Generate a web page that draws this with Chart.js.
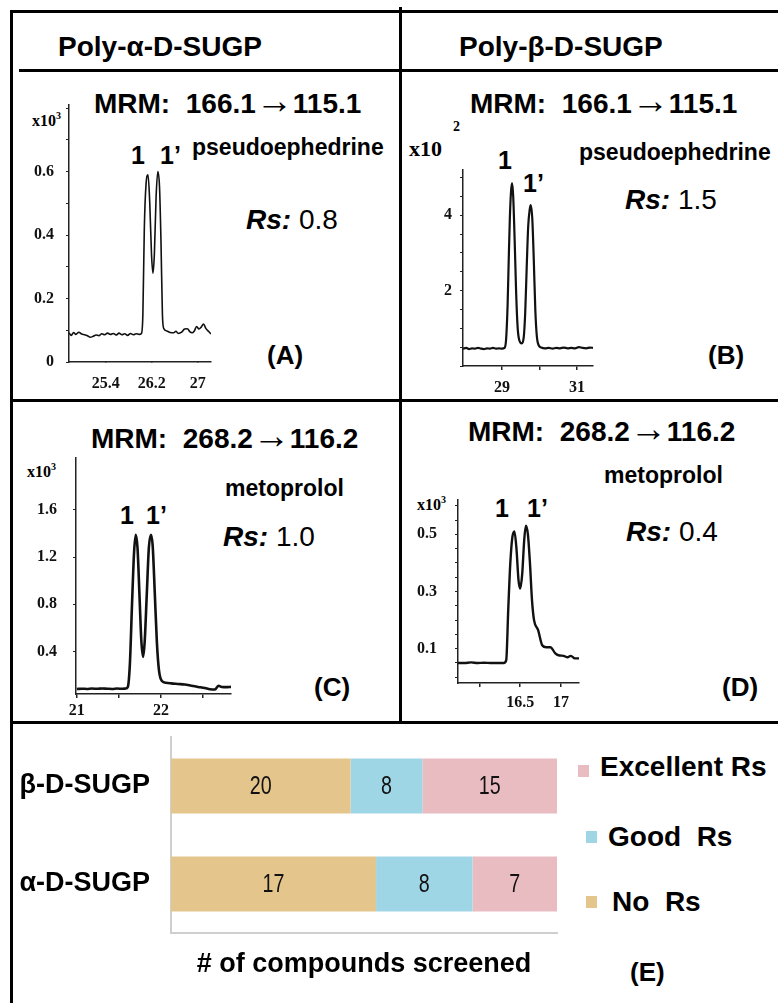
<!DOCTYPE html>
<html>
<head>
<meta charset="utf-8">
<script src="https://cdn.jsdelivr.net/npm/chart.js@4/dist/chart.umd.min.js"></script>
<style>
  body { margin: 0; background: #fff; }
  #fig { position: relative; width: 778px; height: 1003px; overflow: hidden;
         font-family: "Liberation Sans", Arial, sans-serif; color: #000; }
  .ln { position: absolute; background: #000; }
  .t { position: absolute; white-space: nowrap; line-height: 1; transform: translateY(-50%); }
  .b { font-weight: bold; }
  .arr { font-family: "Liberation Serif", serif; font-weight: normal; font-size: 37px; }
  .rs { font-style: italic; font-weight: bold; }
  .mult { font-family: "Liberation Serif", serif; font-weight: bold; font-size: 16px; }
  .mult sup { font-size: 10px; vertical-align: 7px; }
  .sq { position: absolute; width: 11px; height: 12px; }
  canvas { position: absolute; }
</style>
</head>
<body>
<div id="fig">
  <!-- frame -->
  <div class="ln" style="left:10px;top:10px;width:768px;height:3px"></div>
  <div class="ln" style="left:10px;top:10px;width:3px;height:993px"></div>
  <div class="ln" style="left:19px;top:69px;width:759px;height:3px"></div>
  <div class="ln" style="left:399px;top:7px;width:3px;height:716px"></div>
  <div class="ln" style="left:10px;top:399px;width:768px;height:3px"></div>
  <div class="ln" style="left:10px;top:721px;width:768px;height:3px"></div>

  <!-- headers -->
  <div class="t b" style="left:58px;top:47px;font-size:28px">Poly-α-D-SUGP</div>
  <div class="t b" style="left:459px;top:47px;font-size:28px">Poly-β-D-SUGP</div>

  <!-- A -->
  <div class="t b" style="left:94px;top:100px;font-size:28px">MRM:&nbsp; 166.1<span class="arr">→</span>115.1</div>
  <div class="t mult" style="left:32px;top:120px">x10<sup>3</sup></div>
  <div class="t b" style="left:131px;top:155px;font-size:25px">1</div>
  <div class="t b" style="left:160px;top:155px;font-size:25px">1’</div>
  <div class="t b" style="left:192px;top:147px;font-size:23px">pseudoephedrine</div>
  <div class="t" style="left:246px;top:220px;font-size:28px"><span class="rs">Rs:</span> 0.8</div>
  <div class="t b" style="left:267px;top:355px;font-size:26px">(A)</div>
  <canvas id="chA"></canvas>

  <!-- B -->
  <div class="t b" style="left:470px;top:100px;font-size:28px">MRM:&nbsp; 166.1<span class="arr">→</span>115.1</div>
  <div class="t mult" style="left:409px;top:149px;font-size:22px">x10</div>
  <div class="t mult" style="left:453px;top:127px;font-size:14px">2</div>
  <div class="t b" style="left:498px;top:160px;font-size:25px">1</div>
  <div class="t b" style="left:523px;top:183px;font-size:25px">1’</div>
  <div class="t b" style="left:579px;top:152px;font-size:23px">pseudoephedrine</div>
  <div class="t" style="left:625px;top:200px;font-size:28px"><span class="rs">Rs:</span> 1.5</div>
  <div class="t b" style="left:708px;top:355px;font-size:26px">(B)</div>
  <canvas id="chB"></canvas>

  <!-- C -->
  <div class="t b" style="left:91px;top:435px;font-size:28px">MRM:&nbsp; 268.2<span class="arr">→</span>116.2</div>
  <div class="t mult" style="left:27px;top:471px">x10<sup>3</sup></div>
  <div class="t b" style="left:225px;top:488px;font-size:23px">metoprolol</div>
  <div class="t b" style="left:120px;top:515px;font-size:25px">1</div>
  <div class="t b" style="left:146px;top:515px;font-size:25px">1’</div>
  <div class="t" style="left:223px;top:537px;font-size:28px"><span class="rs">Rs:</span> 1.0</div>
  <div class="t b" style="left:314px;top:687px;font-size:26px">(C)</div>
  <canvas id="chC"></canvas>

  <!-- D -->
  <div class="t b" style="left:468px;top:428px;font-size:28px">MRM:&nbsp; 268.2<span class="arr">→</span>116.2</div>
  <div class="t b" style="left:604px;top:475px;font-size:23px">metoprolol</div>
  <div class="t mult" style="left:417px;top:504px">x10<sup>3</sup></div>
  <div class="t b" style="left:495px;top:508px;font-size:25px">1</div>
  <div class="t b" style="left:527px;top:508px;font-size:25px">1’</div>
  <div class="t" style="left:626px;top:532px;font-size:28px"><span class="rs">Rs:</span> 0.4</div>
  <div class="t b" style="left:722px;top:687px;font-size:26px">(D)</div>
  <canvas id="chD"></canvas>

  <!-- E -->
  <canvas id="chE"></canvas>
  <div class="sq" style="left:578px;top:765px;background:#e9bcc1"></div>
  <div class="t b" style="left:600px;top:767px;font-size:28px">Excellent Rs</div>
  <div class="sq" style="left:586px;top:831px;background:#9fd6e6"></div>
  <div class="t b" style="left:608px;top:837px;font-size:28px">Good&nbsp; Rs</div>
  <div class="sq" style="left:586px;top:896px;background:#e4c68c"></div>
  <div class="t b" style="left:612px;top:902px;font-size:28px">No&nbsp; Rs</div>
  <div class="t b" style="left:630px;top:972px;font-size:26px">(E)</div>
</div>

<script>
// chromatogram A: poly-alpha, pseudoephedrine (x10^3 counts vs min)
const timeA = [24.76, 24.80, 24.84, 24.88, 24.93, 24.98, 25.03, 25.08, 25.13, 25.18, 25.23, 25.28, 25.33,
  25.38, 25.43, 25.48, 25.53, 25.58, 25.63, 25.68, 25.73, 25.78, 25.83, 25.88, 25.93, 25.98, 26.02,
  26.045, 26.07, 26.10, 26.135, 26.165, 26.195, 26.22, 26.245, 26.275, 26.305, 26.335, 26.36, 26.385,
  26.41, 26.46, 26.52, 26.58, 26.62, 26.66, 26.72, 26.77, 26.82, 26.86, 26.90, 26.94, 26.98, 27.02,
  27.06, 27.10, 27.14, 27.19, 27.23];
const signalA = [0.092, 0.084, 0.093, 0.087, 0.094, 0.088, 0.086, 0.083, 0.078, 0.081, 0.085, 0.083, 0.089,
  0.086, 0.091, 0.087, 0.090, 0.085, 0.091, 0.086, 0.089, 0.084, 0.090, 0.086, 0.089, 0.087, 0.090,
  0.15, 0.42, 0.56, 0.59, 0.50, 0.34, 0.28, 0.34, 0.52, 0.60, 0.55, 0.38, 0.15,
  0.105, 0.098, 0.093, 0.092, 0.097, 0.090, 0.094, 0.104, 0.105, 0.096, 0.092, 0.098, 0.112, 0.104,
  0.110, 0.120, 0.106, 0.096, 0.088];
const xTicksA = [25.4, 26.2, 27];
const yTicksA = [0, 0.2, 0.4, 0.6];

// chromatogram B: poly-beta, pseudoephedrine (x10^2)
const timeB = [27.96, 28.05, 28.12, 28.2, 28.28, 28.36, 28.44, 28.52, 28.6, 28.68, 28.76, 28.84, 28.92,
  29.0, 29.07, 29.11, 29.15, 29.18, 29.21, 29.24, 29.27, 29.30, 29.34, 29.38, 29.42, 29.47, 29.53,
  29.58, 29.62, 29.66, 29.70, 29.74, 29.77, 29.81, 29.85, 29.89, 29.93, 29.98, 30.05, 30.15, 30.25,
  30.35, 30.45, 30.55, 30.65, 30.75, 30.85, 30.95, 31.05, 31.15, 31.25, 31.35, 31.43];
const signalB = [0.46, 0.48, 0.45, 0.47, 0.46, 0.48, 0.46, 0.45, 0.47, 0.46, 0.48, 0.46, 0.47,
  0.46, 0.48, 0.7, 1.6, 2.8, 3.9, 4.6, 4.85, 4.5, 3.3, 1.9, 1.0, 0.66, 0.6,
  0.75, 1.4, 2.6, 3.7, 4.15, 4.27, 3.9, 2.8, 1.5, 0.8, 0.55, 0.49, 0.47, 0.48,
  0.46, 0.48, 0.47, 0.49, 0.47, 0.48, 0.47, 0.50, 0.48, 0.47, 0.49, 0.48];
const xTicksB = [29, 30, 31];
const xLabelsB = [29, 31];
const yTicksB = [2, 4];

// chromatogram C: poly-alpha, metoprolol (x10^3)
const timeC = [21.0, 21.06, 21.12, 21.18, 21.24, 21.30, 21.36, 21.42, 21.48, 21.54, 21.58, 21.605,
  21.63, 21.655, 21.68, 21.70, 21.72, 21.745, 21.765, 21.786, 21.805, 21.83, 21.855, 21.88, 21.90,
  21.925, 21.95, 21.975, 22.01, 22.06, 22.12, 22.2, 22.28, 22.36, 22.44, 22.52, 22.58, 22.64, 22.68,
  22.72, 22.78, 22.83];
const signalC = [0.082, 0.085, 0.083, 0.086, 0.084, 0.087, 0.085, 0.083, 0.086, 0.084, 0.086, 0.10,
  0.30, 0.80, 1.25, 1.39, 1.28, 0.85, 0.50, 0.355, 0.48, 0.88, 1.28, 1.39, 1.30,
  0.90, 0.48, 0.24, 0.15, 0.135, 0.13, 0.125, 0.12, 0.11, 0.10, 0.09, 0.08, 0.078, 0.11,
  0.10, 0.098, 0.10];
const xTicksC = [21, 21.5, 22, 22.5];
const xLabelsC = [21, 22];
const yTicksC = [0.4, 0.8, 1.2, 1.6];

// chromatogram D: poly-beta, metoprolol (x10^3)
const timeD = [15.74, 15.82, 15.9, 15.98, 16.06, 16.14, 16.22, 16.30, 16.33, 16.355, 16.38, 16.405,
  16.43, 16.455, 16.48, 16.50, 16.525, 16.55, 16.57, 16.595, 16.62, 16.645, 16.67, 16.72, 16.77,
  16.82, 16.87, 16.93, 16.97, 17.03, 17.08, 17.12, 17.17, 17.22];
const signalD = [0.05, 0.05, 0.052, 0.05, 0.051, 0.05, 0.05, 0.05, 0.06, 0.24, 0.40, 0.49,
  0.51, 0.45, 0.34, 0.31, 0.36, 0.48, 0.53, 0.50, 0.40, 0.27, 0.20, 0.165, 0.112,
  0.105, 0.105, 0.084, 0.077, 0.075, 0.07, 0.075, 0.066, 0.066];
const xTicksD = [16, 16.5, 17];
const xLabelsD = [16.5, 17];
const yTicksD = [0.1, 0.3, 0.5];

// panel E: compounds screened per selector
const selectors = ['β-D-SUGP', 'α-D-SUGP'];
const noRs = [20, 17];
const goodRs = [8, 8];
const excellentRs = [15, 7];

const tickFont = { family: '"Liberation Serif", "Times New Roman", serif', weight: 'bold', size: 16 };

function points(xs, ys) {
  return xs.map((x, i) => ({ x: x, y: ys[i] }));
}

function stepTicks(min, max, step) {
  const out = [];
  for (let v = Math.ceil(min / step - 1e-6) * step; v <= max + 1e-6; v += step)
    out.push(+v.toFixed(4));
  return out;
}

// area = page box of the plot area; the canvas is placed around it
function chromChart(id, area, cfg) {
  const YW = 48, XH = 34, PT = 4, PR = 14;
  const cv = document.getElementById(id);
  const w = area.r - area.l + YW + PR;
  const h = area.b - area.t + PT + XH;
  cv.width = w; cv.height = h;
  cv.style.left = (area.l - YW) + 'px';
  cv.style.top = (area.t - PT) + 'px';
  const xLab = cfg.xLabels || cfg.xTicks;
  const yMarks = cfg.yMinor ? stepTicks(cfg.yMin, cfg.yMax, cfg.yMinor) : cfg.yTicks;
  new Chart(cv.getContext('2d'), {
    type: 'line',
    data: { datasets: [{
      data: points(cfg.x, cfg.y),
      borderColor: '#111',
      borderWidth: cfg.lw || 2,
      pointRadius: 0,
      cubicInterpolationMode: 'monotone'
    }] },
    options: {
      responsive: false,
      animation: false,
      layout: { padding: { top: PT, right: PR, left: 0, bottom: 0 } },
      plugins: { legend: { display: false }, tooltip: { enabled: false } },
      scales: {
        x: {
          type: 'linear', min: cfg.xMin, max: cfg.xMax,
          afterBuildTicks: s => { s.ticks = cfg.xTicks.map(v => ({ value: v })); },
          afterFit: s => { s.height = XH; s.paddingLeft = 0; s.paddingRight = 0; },
          grid: { drawOnChartArea: false, color: '#222', tickLength: cfg.xTickLen ?? 4, lineWidth: 1.5 },
          border: { color: '#222', width: 1.5 },
          ticks: {
            color: '#111', font: tickFont, padding: cfg.xPad || 4, maxRotation: 0, autoSkip: false,
            callback: v => xLab.includes(v) ? String(v) : ''
          }
        },
        y: {
          min: cfg.yMin, max: cfg.yMax,
          afterBuildTicks: s => { s.ticks = yMarks.map(v => ({ value: v })); },
          afterFit: s => { s.width = YW; s.paddingTop = 0; s.paddingBottom = 0; },
          grid: { drawOnChartArea: false, color: '#222', tickLength: 3, lineWidth: 1 },
          border: { color: '#222', width: 1.5 },
          ticks: {
            color: '#111', font: tickFont, padding: cfg.yPad || 10, autoSkip: false,
            callback: v => cfg.yTicks.some(t => Math.abs(t - v) < 1e-6) ? String(v) : ''
          }
        }
      }
    }
  });
}

chromChart('chA', { l: 69, r: 211, t: 105, b: 362 }, {
  x: timeA, y: signalA, xMin: 24.76, xMax: 27.23, xTicks: xTicksA, xTickLen: 0,
  yMin: 0, yMax: 0.81, yTicks: yTicksA, yMinor: 0.1, yPad: 12, xPad: 12, lw: 1.6
});
chromChart('chB', { l: 463, r: 593, t: 170, b: 366 }, {
  x: timeB, y: signalB, xMin: 27.96, xMax: 31.43, xTicks: xTicksB, xLabels: xLabelsB,
  yMin: 0, yMax: 5.2, yTicks: yTicksB, yMinor: 0.5, yPad: 8, xPad: 8, lw: 2.2
});
chromChart('chC', { l: 76, r: 231, t: 458, b: 694 }, {
  x: timeC, y: signalC, xMin: 20.99, xMax: 22.83, xTicks: xTicksC, xLabels: xLabelsC,
  yMin: 0.04, yMax: 2.04, yTicks: yTicksC, yPad: 16, xPad: 3, lw: 2.6
});
chromChart('chD', { l: 458, r: 579, t: 500, b: 683 }, {
  x: timeD, y: signalD, xMin: 15.74, xMax: 17.22, xTicks: xTicksD, xLabels: xLabelsD,
  yMin: -0.02, yMax: 0.62, yTicks: yTicksD, yMinor: 0.05, yPad: 18, xPad: 6, lw: 2.4
});

// panel E: 100% stacked bars, segment labels show the counts
const totals = selectors.map((_, i) => noRs[i] + goodRs[i] + excellentRs[i]);
const share = arr => arr.map((v, i) => v / totals[i] * 100);

const countLabels = {
  id: 'countLabels',
  afterDatasetsDraw(chart) {
    const ctx = chart.ctx;
    chart.data.datasets.forEach((ds, di) => {
      chart.getDatasetMeta(di).data.forEach((bar, i) => {
        ctx.save();
        ctx.translate((bar.x + bar.base) / 2, bar.y + 1);
        ctx.scale(0.82, 1.05);  // narrow figures
        ctx.fillStyle = '#111';
        ctx.font = '24px "Liberation Sans", sans-serif';
        ctx.textAlign = 'center';
        ctx.textBaseline = 'middle';
        ctx.fillText(String(ds.counts[i]), 0, 0);
        ctx.restore();
      });
    });
  }
};

(function () {
  const cv = document.getElementById('chE');
  const left = 12, top = 725, YW = 159, XH = 60, PT = 12;
  const areaR = 557, areaB = 933;
  cv.width = areaR - left + 4;
  cv.height = areaB - top + XH;
  cv.style.left = left + 'px';
  cv.style.top = top + 'px';
  const seg = (label, arr, color) => ({
    label: label, data: share(arr), counts: arr,
    backgroundColor: color, borderWidth: 0,
    barPercentage: 0.56, categoryPercentage: 1
  });
  new Chart(cv.getContext('2d'), {
    type: 'bar',
    data: {
      labels: selectors,
      datasets: [
        seg('No Rs', noRs, '#e4c68c'),
        seg('Good Rs', goodRs, '#9fd6e6'),
        seg('Excellent Rs', excellentRs, '#e9bcc1')
      ]
    },
    options: {
      indexAxis: 'y',
      responsive: false,
      animation: false,
      layout: { padding: { top: PT, right: 4, left: 0, bottom: 0 } },
      plugins: { legend: { display: false }, tooltip: { enabled: false } },
      scales: {
        x: {
          stacked: true, min: 0, max: 100,
          afterFit: s => { s.height = XH; s.paddingLeft = 0; s.paddingRight = 0; },
          grid: { display: false },
          border: { color: '#cfcfcf', width: 2 },
          ticks: { display: false },
          title: {
            display: true, text: '# of compounds screened', color: '#000',
            font: { family: '"Liberation Sans", Arial, sans-serif', weight: 'bold', size: 27 },
            padding: { top: 0, bottom: 12 }
          }
        },
        y: {
          stacked: true,
          afterFit: s => { s.width = YW; s.paddingTop = 0; s.paddingBottom = 0; },
          grid: { display: false, drawTicks: false },
          border: { color: '#cfcfcf', width: 2 },
          ticks: {
            color: '#000', padding: 21,
            font: { family: '"Liberation Sans", Arial, sans-serif', weight: 'bold', size: 27 }
          }
        }
      }
    },
    plugins: [countLabels]
  });
})();
</script>
</body>
</html>
